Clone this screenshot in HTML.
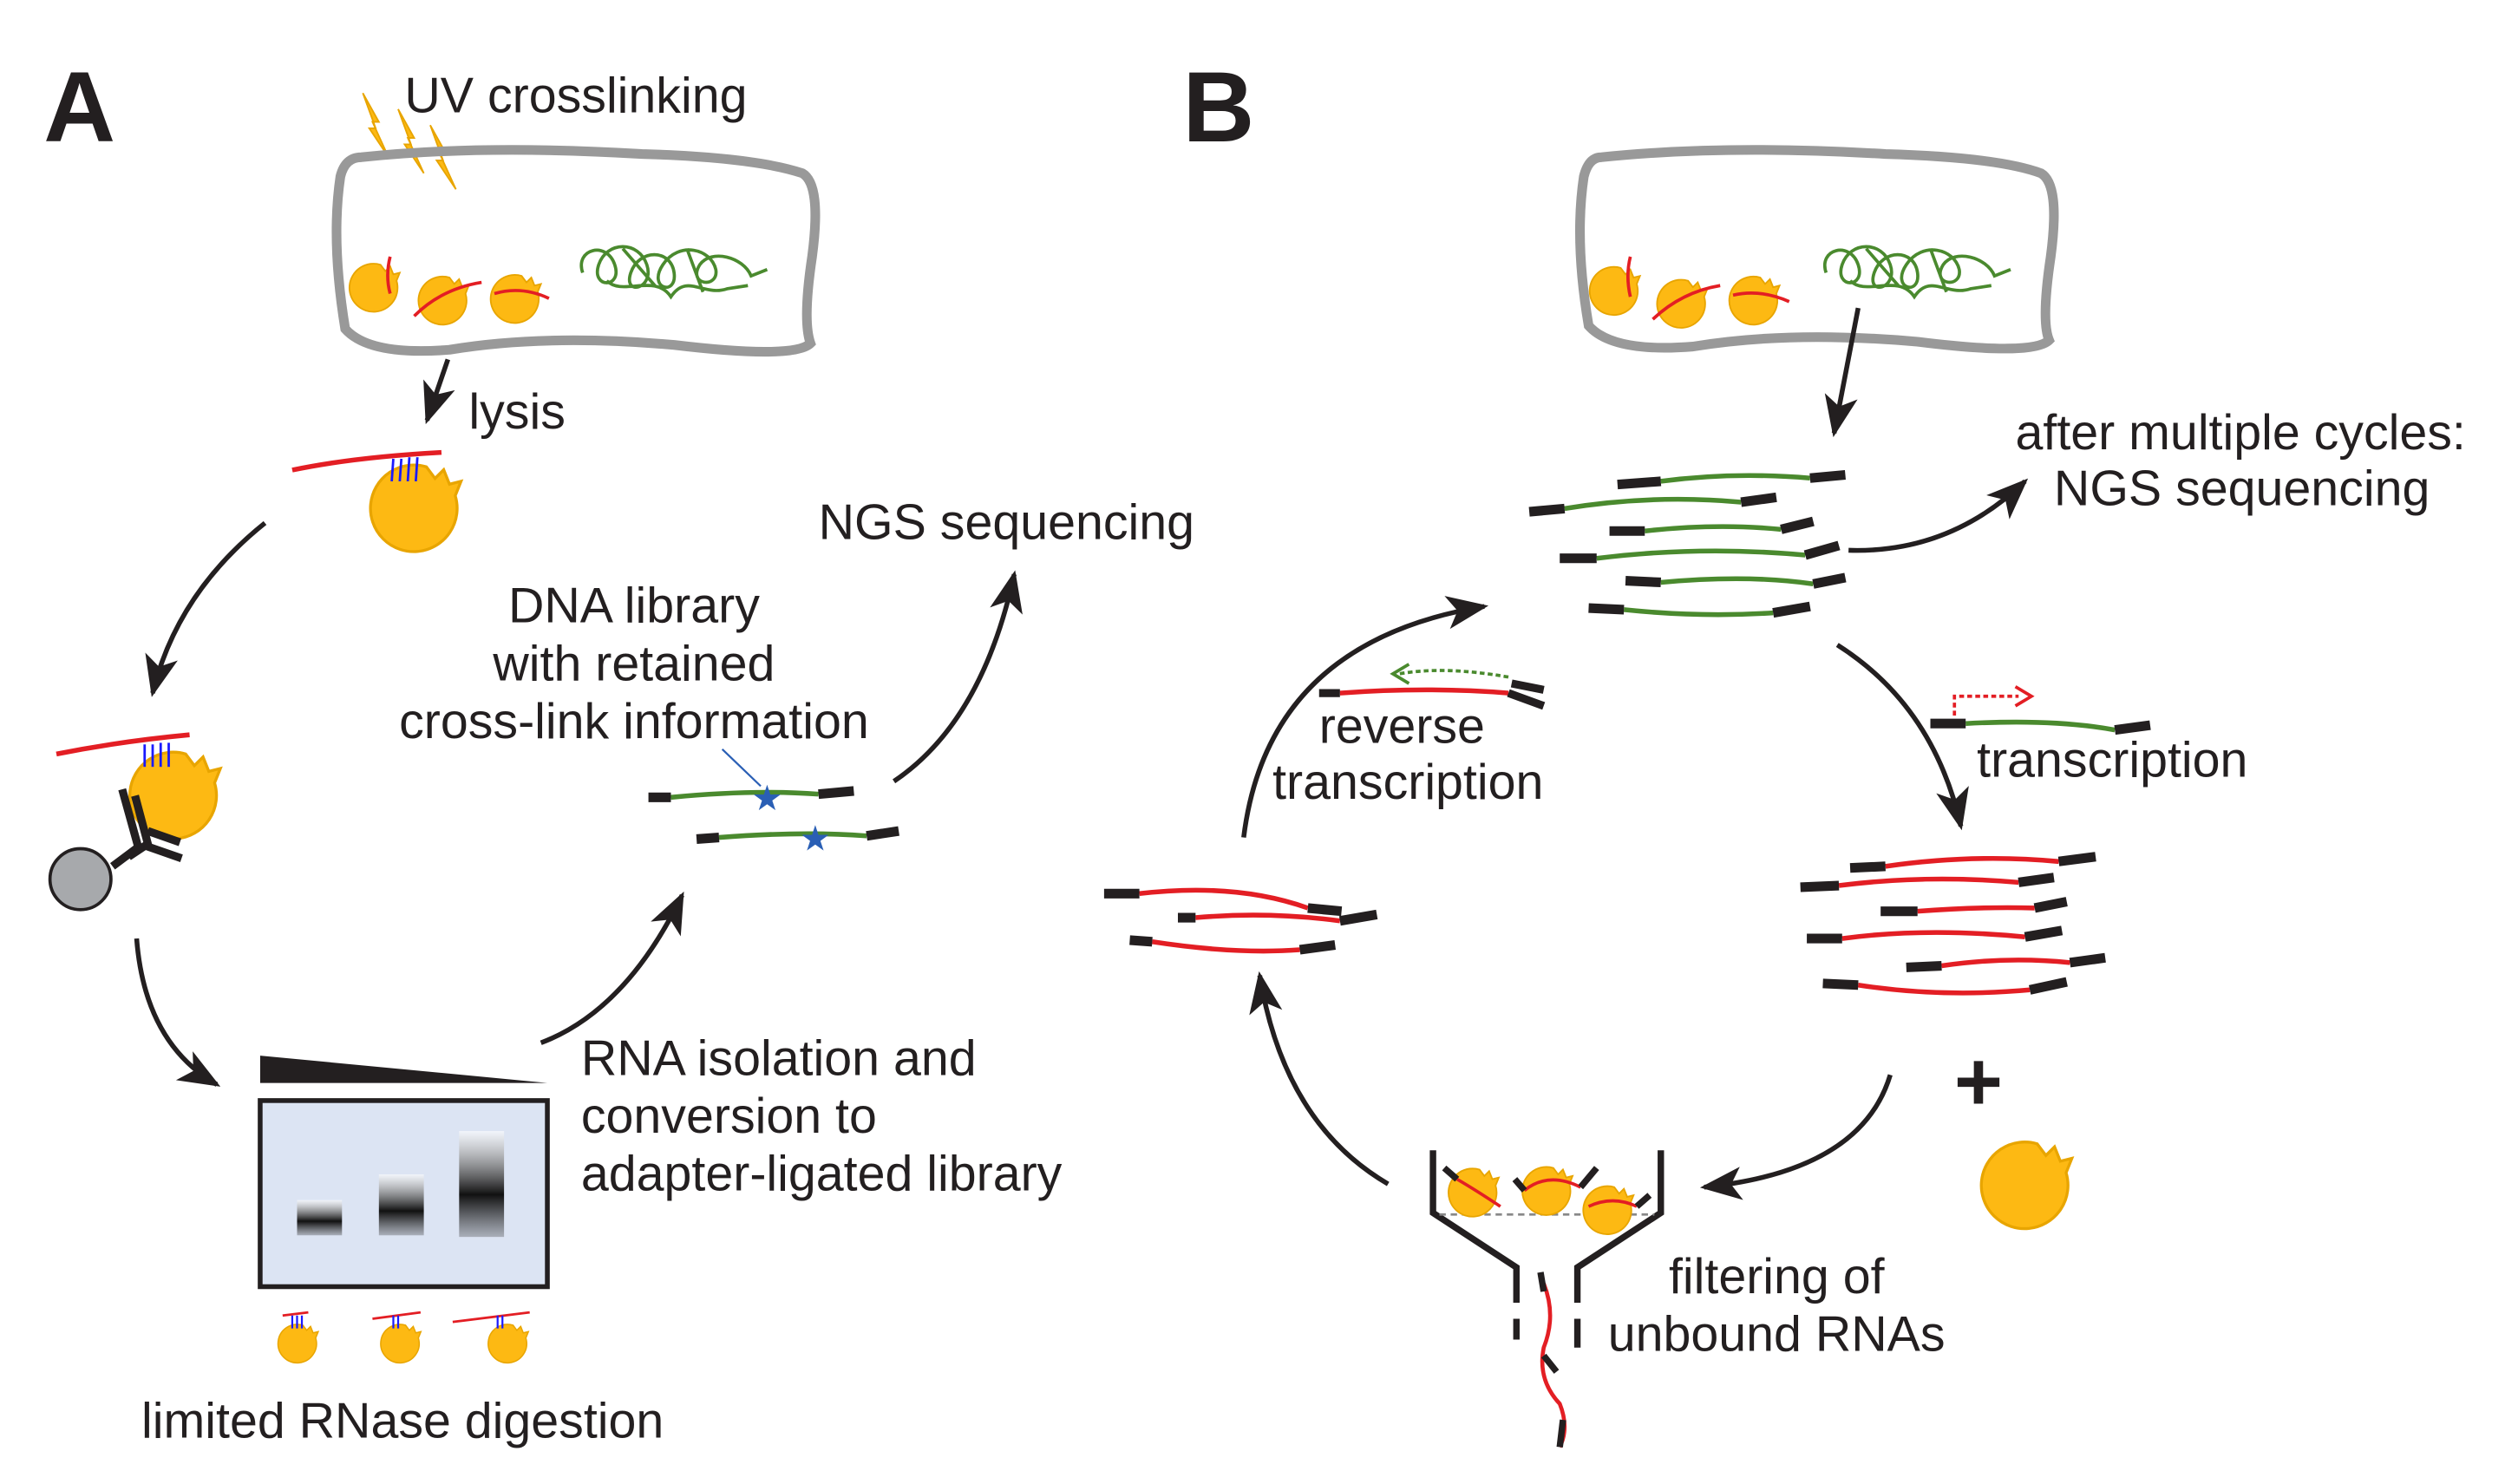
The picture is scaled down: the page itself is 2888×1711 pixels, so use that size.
<!DOCTYPE html>
<html><head><meta charset="utf-8"><style>
html,body{margin:0;padding:0;background:#fff;}
svg{display:block}
text{font-family:"Liberation Sans",Arial,sans-serif;fill:#231f20;font-size:31px}
</style></head><body>
<svg width="2888" height="1711" viewBox="0 0 1561 925" xmlns="http://www.w3.org/2000/svg">
<defs>
<marker id="a" viewBox="0 0 20 16" refX="18" refY="8" markerWidth="26" markerHeight="22" orient="auto" markerUnits="userSpaceOnUse">
<path d="M0,0 L20,8 L0,16 L5,8 Z" fill="#231f20"/>
</marker>
<linearGradient id="band" x1="0" y1="0" x2="0" y2="1">
<stop offset="0" stop-color="#fff" stop-opacity="0.6"/>
<stop offset="0.6" stop-color="#111"/>
<stop offset="1" stop-color="#333" stop-opacity="0.3"/>
</linearGradient>
<g id="prot"><path d="M2,-15 L5,-11 L8,-14 L10,-9 L14,-10 L12,-5 A15,15 0 1 1 2,-15 Z" fill="#fdb913" stroke="#e8a500" stroke-width="1"/></g>
<g id="bolt"><path d="M0,0 L10,18 L6,18 L16,40 L4,22 L8,22 Z" fill="#fdb913" stroke="#e8a500" stroke-width="1"/></g>
<g id="tangle" fill="none" stroke="#4a8a2e" stroke-width="2">
<path d="M5,20 C0,5 20,0 25,15 C30,30 10,30 15,15 C20,0 40,0 45,15 C50,30 30,35 35,20 C40,5 60,5 62,20 C64,35 45,30 55,15 C65,0 85,5 88,18 C90,30 70,28 78,15 C85,5 105,10 110,22 L120,18 M20,25 C30,35 50,20 60,35 C70,20 80,35 95,30 L108,28 M30,5 L50,28 M70,5 L80,32"/>
</g>
</defs>

<!-- Panel A -->
<text x="27" y="88" style="font-size:62px;font-weight:bold">A</text>
<text x="252" y="70">UV crosslinking</text>
<use href="#bolt" x="226" y="58"/>
<use href="#bolt" x="248" y="68"/>
<use href="#bolt" x="268" y="78"/>
<path d="M225,98 Q300,90 400,96 Q470,98 500,108 Q512,115 506,160 Q500,200 505,214 Q495,224 420,215 Q340,208 280,218 Q230,222 215,205 Q206,150 212,110 Q215,98 225,98 Z" fill="none" stroke="#999" stroke-width="6"/>
<use href="#prot" x="235" y="180"/>
<use href="#prot" x="278" y="188"/>
<use href="#prot" x="323" y="187"/>
<path d="M243,160 Q240,172 243,183" stroke="#e31e24" stroke-width="2" fill="none"/>
<path d="M258,197 Q275,180 300,176" stroke="#e31e24" stroke-width="2" fill="none"/>
<path d="M308,183 Q325,178 342,186" stroke="#e31e24" stroke-width="2" fill="none"/>
<use href="#tangle" x="358" y="150"/>
<line x1="279" y1="224" x2="266" y2="262" stroke="#231f20" stroke-width="3" marker-end="url(#a)"/>
<text x="292" y="267">lysis</text>
<use href="#prot" transform="translate(262,318) scale(1.8)"/>
<path d="M182,293 Q220,285 275,282" stroke="#e31e24" stroke-width="3" fill="none"/>
<g stroke="#1a1aff" stroke-width="1.5"><line x1="245" y1="286" x2="244" y2="300"/><line x1="250" y1="286" x2="249" y2="300"/><line x1="255" y1="285" x2="254" y2="300"/><line x1="260" y1="285" x2="259" y2="300"/></g>
<path d="M165,326 Q110,370 95,432" fill="none" stroke="#231f20" stroke-width="3" marker-end="url(#a)"/>
<use href="#prot" transform="translate(112,497) scale(1.8)"/>
<path d="M35,470 Q75,462 118,458" stroke="#e31e24" stroke-width="3" fill="none"/>
<g stroke="#1a1aff" stroke-width="1.5"><line x1="90" y1="464" x2="90" y2="478"/><line x1="95" y1="464" x2="95" y2="478"/><line x1="100" y1="463" x2="100" y2="478"/><line x1="105" y1="463" x2="105" y2="478"/></g>
<g stroke="#231f20" stroke-width="5" fill="none"><path d="M70,540 L86,528 L76,492"/><path d="M80,534 L92,526 L84,496"/><path d="M90,527 L113,535"/><path d="M92,518 L112,525"/></g>
<circle cx="50" cy="548" r="19" fill="#a7a9ac" stroke="#231f20" stroke-width="2"/>
<path d="M85,585 Q90,650 135,676" fill="none" stroke="#231f20" stroke-width="3" marker-end="url(#a)"/>
<path d="M162,658 L341,675 L162,675 Z" fill="#231f20"/>
<rect x="162" y="686" width="179" height="116" fill="#dce4f3" stroke="#231f20" stroke-width="3"/>
<rect x="185" y="748" width="28" height="22" fill="url(#band)"/>
<rect x="236" y="732" width="28" height="38" fill="url(#band)"/>
<rect x="286" y="705" width="28" height="66" fill="url(#band)"/>
<use href="#prot" transform="translate(187,838) scale(0.8)"/>
<use href="#prot" transform="translate(251,838) scale(0.8)"/>
<use href="#prot" transform="translate(318,838) scale(0.8)"/>
<path d="M176,820 L192,818 M232,822 L262,818 M282,824 L330,818" stroke="#e31e24" stroke-width="1.5"/>
<g stroke="#1a1aff" stroke-width="1.2"><path d="M182,820 v8 M185,820 v8 M188,820 v8 M245,820 v8 M248,820 v8 M310,820 v8 M313,820 v8"/></g>
<text x="88" y="896">limited RNase digestion</text>
<path d="M337,650 Q390,630 425,558" fill="none" stroke="#231f20" stroke-width="3" marker-end="url(#a)"/>
<text x="362" y="670">RNA isolation and</text>
<text x="362" y="706">conversion to</text>
<text x="362" y="742">adapter-ligated library</text>
<text x="395" y="388" text-anchor="middle">DNA library</text>
<text x="395" y="424" text-anchor="middle">with retained</text>
<text x="395" y="460" text-anchor="middle">cross-link information</text>
<line x1="450" y1="467" x2="474" y2="490" stroke="#2a5fb5" stroke-width="1.2"/>
<path d="M418,497 Q470,492 510,495" stroke="#4a8a2e" stroke-width="3" fill="none"/>
<path d="M404,497 L418,497 M510,495 L532,493" stroke="#231f20" stroke-width="6"/>
<path d="M448,522 Q500,518 540,521" stroke="#4a8a2e" stroke-width="3" fill="none"/>
<path d="M434,523 L448,522 M540,521 L560,518" stroke="#231f20" stroke-width="6"/>
<text x="478" y="505" text-anchor="middle" style="font-size:22px;fill:#2a5fb5">★</text>
<text x="508" y="530" text-anchor="middle" style="font-size:22px;fill:#2a5fb5">★</text>
<path d="M557,487 Q612,450 632,358" fill="none" stroke="#231f20" stroke-width="3" marker-end="url(#a)"/>
<text x="510" y="336">NGS sequencing</text>

<!-- Panel B -->
<text x="737" y="88" style="font-size:62px;font-weight:bold">B</text>
<path d="M998,98 Q1075,90 1175,96 Q1245,98 1272,108 Q1284,115 1278,160 Q1272,200 1277,212 Q1267,222 1195,213 Q1115,206 1055,216 Q1005,220 990,203 Q981,150 987,110 Q990,98 998,98 Z" fill="none" stroke="#999" stroke-width="6"/>
<use href="#prot" x="1008" y="182"/>
<use href="#prot" x="1050" y="190"/>
<use href="#prot" x="1095" y="188"/>
<path d="M1016,160 Q1013,172 1016,185" stroke="#e31e24" stroke-width="2" fill="none"/>
<path d="M1030,199 Q1048,182 1072,178" stroke="#e31e24" stroke-width="2" fill="none"/>
<path d="M1080,184 Q1097,180 1115,188" stroke="#e31e24" stroke-width="2" fill="none"/>
<use href="#tangle" x="1133" y="150"/>
<line x1="1158" y1="192" x2="1143" y2="270" stroke="#231f20" stroke-width="3" marker-end="url(#a)"/>
<g fill="none" stroke-width="3">
<path d="M1035,300 Q1080,294 1128,298" stroke="#4a8a2e"/><path d="M1008,302 L1035,300 M1128,298 L1150,296" stroke="#231f20" stroke-width="6"/>
<path d="M975,317 Q1030,308 1085,313" stroke="#4a8a2e"/><path d="M953,319 L975,317 M1085,313 L1107,310" stroke="#231f20" stroke-width="6"/>
<path d="M1025,331 Q1070,326 1110,330" stroke="#4a8a2e"/><path d="M1003,331 L1025,331 M1110,330 L1130,325" stroke="#231f20" stroke-width="6"/>
<path d="M995,348 Q1060,340 1125,346" stroke="#4a8a2e"/><path d="M972,348 L995,348 M1125,346 L1146,340" stroke="#231f20" stroke-width="6"/>
<path d="M1035,363 Q1090,358 1130,364" stroke="#4a8a2e"/><path d="M1013,362 L1035,363 M1130,364 L1150,360" stroke="#231f20" stroke-width="6"/>
<path d="M1012,380 Q1060,385 1105,382" stroke="#4a8a2e"/><path d="M990,379 L1012,380 M1105,382 L1128,378" stroke="#231f20" stroke-width="6"/>
</g>
<path d="M1152,343 Q1215,345 1262,300" fill="none" stroke="#231f20" stroke-width="3" marker-end="url(#a)"/>
<text x="1256" y="280">after multiple cycles:</text>
<text x="1280" y="315">NGS sequencing</text>
<path d="M1145,402 Q1205,440 1222,515" fill="none" stroke="#231f20" stroke-width="3" marker-end="url(#a)"/>
<path d="M1225,451 Q1280,448 1318,455" stroke="#4a8a2e" stroke-width="3" fill="none"/>
<path d="M1203,451 L1225,451 M1318,455 L1340,452" stroke="#231f20" stroke-width="6"/>
<path d="M1218,446 L1218,434 L1258,434" stroke="#e31e24" stroke-width="2" stroke-dasharray="3,2" fill="none"/>
<path d="M1256,428 L1266,434 L1256,440" stroke="#e31e24" stroke-width="2" fill="none"/>
<text x="1232" y="484">transcription</text>
<g fill="none" stroke-width="3">
<path d="M1175,540 Q1230,532 1283,537" stroke="#e31e24"/><path d="M1153,541 L1175,540 M1283,537 L1306,534" stroke="#231f20" stroke-width="6"/>
<path d="M1146,552 Q1200,545 1258,550" stroke="#e31e24"/><path d="M1122,553 L1146,552 M1258,550 L1280,547" stroke="#231f20" stroke-width="6"/>
<path d="M1195,568 Q1235,565 1268,566" stroke="#e31e24"/><path d="M1172,568 L1195,568 M1268,566 L1288,562" stroke="#231f20" stroke-width="6"/>
<path d="M1148,585 Q1200,578 1262,584" stroke="#e31e24"/><path d="M1126,585 L1148,585 M1262,584 L1285,580" stroke="#231f20" stroke-width="6"/>
<path d="M1210,602 Q1250,596 1290,600" stroke="#e31e24"/><path d="M1188,603 L1210,602 M1290,600 L1312,597" stroke="#231f20" stroke-width="6"/>
<path d="M1158,614 Q1210,622 1265,617" stroke="#e31e24"/><path d="M1136,613 L1158,614 M1265,617 L1288,612" stroke="#231f20" stroke-width="6"/>
</g>
<text x="1233" y="692" text-anchor="middle" style="font-size:52px;font-weight:bold">+</text>
<use href="#prot" transform="translate(1266,740) scale(1.8)"/>
<path d="M1178,670 Q1160,730 1062,740" fill="none" stroke="#231f20" stroke-width="3" marker-end="url(#a)"/>
<g stroke="#231f20" stroke-width="4" fill="none">
<path d="M893,717 L893,756 L945,790 L945,812"/>
<path d="M1035,717 L1035,756 L983,790 L983,812"/>
<path d="M945,822 L945,835 M983,822 L983,840"/>
</g>
<line x1="897" y1="757" x2="1031" y2="757" stroke="#888" stroke-width="1.5" stroke-dasharray="4,3"/>
<use href="#prot" x="920" y="744"/>
<use href="#prot" x="966" y="743"/>
<use href="#prot" x="1004" y="755"/>
<path d="M908,735 Q920,742 935,752 M950,742 Q965,730 985,740 M990,752 Q1005,745 1020,752" stroke="#e31e24" stroke-width="2" fill="none"/>
<path d="M900,728 L908,735 M944,735 L950,742 M985,740 L995,728 M1020,752 L1028,745" stroke="#231f20" stroke-width="4"/>
<path d="M962,800 Q970,820 962,840 Q958,860 972,875 Q978,890 972,902" stroke="#e31e24" stroke-width="2.5" fill="none"/>
<path d="M960,793 L962,805 M962,845 L970,855 M974,885 L972,902" stroke="#231f20" stroke-width="4"/>
<text x="1040" y="806">filtering of</text>
<text x="1002" y="842">unbound RNAs</text>
<path d="M865,738 Q800,700 785,608" fill="none" stroke="#231f20" stroke-width="3" marker-end="url(#a)"/>
<g fill="none" stroke-width="3">
<path d="M710,557 Q770,550 815,566" stroke="#e31e24"/><path d="M688,557 L710,557 M815,566 L836,568" stroke="#231f20" stroke-width="6"/>
<path d="M745,572 Q790,568 835,574" stroke="#e31e24"/><path d="M734,572 L745,572 M835,574 L858,570" stroke="#231f20" stroke-width="6"/>
<path d="M718,587 Q770,595 810,592" stroke="#e31e24"/><path d="M704,586 L718,587 M810,592 L832,589" stroke="#231f20" stroke-width="6"/>
</g>
<path d="M775,522 Q790,400 925,378" fill="none" stroke="#231f20" stroke-width="3" marker-end="url(#a)"/>
<path d="M835,432 Q890,428 940,432" stroke="#e31e24" stroke-width="3" fill="none"/>
<path d="M822,432 L835,432 M940,432 L962,440 M942,426 L962,430" stroke="#231f20" stroke-width="5"/>
<path d="M940,422 Q900,415 872,420" stroke="#4a8a2e" stroke-width="2" stroke-dasharray="3,2" fill="none"/>
<path d="M878,414 L868,420 L878,426" stroke="#4a8a2e" stroke-width="2" fill="none"/>
<text x="822" y="463">reverse</text>
<text x="793" y="498">transcription</text>
</svg>
</body></html>
